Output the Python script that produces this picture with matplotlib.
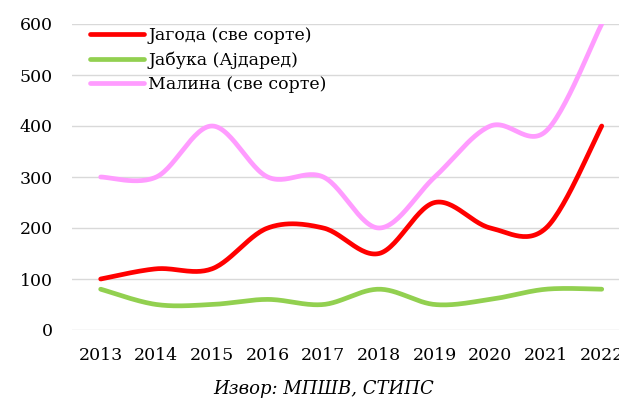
import numpy as np
import matplotlib
matplotlib.use('Agg')
import matplotlib.pyplot as plt

years = ['2013', '2014', '2015', '2016', '2017', '2018', '2019', '2020', '2021', '2022']
jagoda = [100, 120, 120, 200, 200, 150, 250, 200, 200, 400]
jabuka = [80, 50, 50, 60, 50, 80, 50, 60, 80, 80]
malina = [300, 300, 400, 300, 300, 200, 300, 400, 390, 600]

labels = ['Јагода (све сорте)', 'Јабука (Ајдаред)', 'Малина (све сорте)']
colors = ['#ff0000', '#92d050', '#ff9cff']


def smooth(y, steps=30):
    # catmull-rom style bezier, like the smoothed lines in excel
    x = np.arange(len(y), dtype=float)
    y = np.asarray(y, dtype=float)
    px = np.concatenate([[x[0]], x, [x[-1]]])
    py = np.concatenate([[y[0]], y, [y[-1]]])
    xs, ys = [], []
    t = np.linspace(0, 1, steps)
    for i in range(len(x) - 1):
        p0 = np.array([px[i + 1], py[i + 1]])
        p3 = np.array([px[i + 2], py[i + 2]])
        c1 = p0 + (p3 - np.array([px[i], py[i]])) / 6
        c2 = p3 - (np.array([px[i + 3], py[i + 3]]) - p0) / 6
        b = ((1 - t) ** 3)[:, None] * p0 + (3 * (1 - t) ** 2 * t)[:, None] * c1 \
            + (3 * (1 - t) * t ** 2)[:, None] * c2 + (t ** 3)[:, None] * p3
        xs.extend(b[:, 0])
        ys.extend(b[:, 1])
    return np.array(xs), np.array(ys)


plt.rcParams['font.family'] = ['DejaVu Serif']

fig = plt.figure(figsize=(6.19, 4.01), dpi=100)
ax = fig.add_axes([72 / 619, 71 / 401, 1 - 72 / 619, 306 / 401])

for vals, lab, col in zip([jagoda, jabuka, malina], labels, colors):
    sx, sy = smooth(vals)
    ax.plot(sx, sy, color=col, lw=3.4, label=lab, solid_capstyle='round', zorder=3)

ax.set_xlim(-0.515, 9.31)
ax.set_ylim(0, 600)
ax.set_yticks(range(0, 601, 100))
ax.set_xticks(range(len(years)))
ax.set_xticklabels(years)
ax.tick_params(axis='both', length=0, labelsize=12.5)
ax.tick_params(axis='x', pad=12)
ax.tick_params(axis='y', pad=14)
ax.grid(axis='y', color='#d9d9d9', lw=1)
ax.set_axisbelow(True)
for s in ax.spines.values():
    s.set_visible(False)

# legend sits inside the plot, top left
leg = ax.legend(loc='upper left', bbox_to_anchor=(0.02, 1.012), frameon=False,
                fontsize=12.5, handlelength=3.1, handletextpad=0.25, labelspacing=0.42,
                borderaxespad=0)

fig.text(324 / 619, 12 / 401, 'Извор: МПШВ, СТИПС', ha='center', va='center',
         fontsize=13, style='italic')

fig.savefig('out.png', dpi=100)
